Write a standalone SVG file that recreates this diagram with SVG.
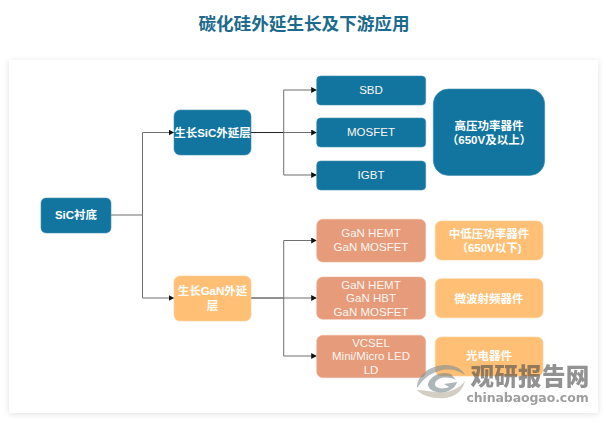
<svg xmlns="http://www.w3.org/2000/svg" width="608" height="423" viewBox="0 0 608 423">
<style>
text{font-family:"Liberation Sans","Noto Sans CJK SC",sans-serif;text-anchor:middle;fill:#fdf6f0}
.b{font-weight:700;font-size:11.500px;fill:#fff}
.t{font-size:11.500px}
.blue{fill:#12759f;stroke:#3f90b3;stroke-width:.6}
.gan{fill:#e69b7b;stroke:#f0b59c;stroke-width:.6}
.org{fill:#ffc075;stroke:#ffcd92;stroke-width:.6}
.line{fill:none;stroke:#6e6e6e;stroke-width:1}
.dark{fill:none;stroke:#222;stroke-width:1.1}
</style>
<defs>
<filter id="sh" x="-5%" y="-5%" width="110%" height="110%"><feDropShadow dx="0" dy="1" stdDeviation="3" flood-color="#000" flood-opacity=".12"/></filter>
<marker id="arr" markerUnits="userSpaceOnUse" markerWidth="7" markerHeight="7" refX="5.500" refY="3" orient="auto"><path d="M0 0L5.500 3L0 6Z" fill="#111"/></marker>
</defs>
<rect width="608" height="423" fill="#fff"/>
<rect x="9" y="60" width="589" height="353" fill="#fff" filter="url(#sh)"/>
<text x="304" y="30" style="font-family:'Liberation Serif','Noto Sans CJK SC',serif;font-size:17.600px;font-weight:700;fill:#1c6a8c">碳化硅外延生长及下游应用</text>
<g id="connectors">
<path class="line" d="M111 215H142.500"/>
<path class="line" d="M142.500 215V132.500H174" marker-end="url(#arr)"/>
<path class="line" d="M142.500 215V298H174" marker-end="url(#arr)"/>
<path class="dark" d="M251 132.500H283.700"/>
<path class="line" d="M283.700 132.500V90H316.700" marker-end="url(#arr)"/>
<path class="line" d="M283.700 132.500H316.700" marker-end="url(#arr)"/>
<path class="line" d="M283.700 132.500V175H316.700" marker-end="url(#arr)"/>
<path class="dark" d="M251 298H283.700"/>
<path class="line" d="M283.700 298V240.500H316.700" marker-end="url(#arr)"/>
<path class="line" d="M283.700 298H316.700" marker-end="url(#arr)"/>
<path class="line" d="M283.700 298V356H316.700" marker-end="url(#arr)"/>
</g>
<g id="sic-sub"><rect class="blue" x="41" y="198" width="70" height="35" rx="5"/><text class="b" x="76" y="219">SiC衬底</text></g>
<g id="sic-epi"><rect class="blue" x="174" y="110" width="77" height="45" rx="6"/><text class="b" x="212.500" y="137">生长SiC外延层</text></g>
<g id="gan-epi"><rect class="org" x="174" y="276" width="77" height="45" rx="6"/><text class="b" x="212.500" y="295">生长GaN外延</text><text class="b" x="212.500" y="310">层</text></g>
<g id="sbd"><rect class="blue" x="316.700" y="76" width="109" height="29" rx="4"/><text class="t" x="371" y="94">SBD</text></g>
<g id="mosfet"><rect class="blue" x="316.700" y="118" width="109" height="29" rx="4"/><text class="t" x="371" y="136">MOSFET</text></g>
<g id="igbt"><rect class="blue" x="316.700" y="161" width="109" height="29" rx="4"/><text class="t" x="371" y="179">IGBT</text></g>
<g id="hv"><rect class="blue" x="433.300" y="89" width="111.400" height="86.500" rx="15"/><text class="b" x="489" y="130">高压功率器件</text><text class="b" x="489" y="144">（650V及以上）</text></g>
<g id="gan1"><rect class="gan" x="316.700" y="219.300" width="109" height="42.700" rx="6"/><text class="t" x="371" y="237">GaN HEMT</text><text class="t" x="371" y="251">GaN MOSFET</text></g>
<g id="gan2"><rect class="gan" x="316.700" y="277" width="109" height="42.300" rx="6"/><text class="t" x="371" y="288.500">GaN HEMT</text><text class="t" x="371" y="302">GaN HBT</text><text class="t" x="371" y="316">GaN MOSFET</text></g>
<g id="gan3"><rect class="gan" x="316.700" y="335.300" width="109" height="42.400" rx="6"/><text class="t" x="371" y="346.500">VCSEL</text><text class="t" x="371" y="360">Mini/Micro LED</text><text class="t" x="371" y="374">LD</text></g>
<g id="mv"><rect class="org" x="435.300" y="221" width="107.700" height="39" rx="6"/><text class="b" x="489" y="238">中低压功率器件</text><text class="b" x="489" y="252">（650V以下)</text></g>
<g id="rf"><rect class="org" x="435.300" y="278.700" width="107.700" height="39" rx="6"/><text class="b" x="489" y="302.500">微波射频器件</text></g>
<g id="opto"><rect class="org" x="435.300" y="337" width="107.700" height="39" rx="6"/><text class="b" x="489" y="360">光电器件</text></g>
<g id="watermark" opacity=".6">
<path d="M417 388C417 374 432 364 448 365C457 366 463 370 465 375C458 370 448 368 439 371C428 374 422 381 417 388Z" fill="#7f8f94"/>
<path d="M417 390C422 396 434 399 445 398C456 397 463 390 465 381C460 388 450 393 440 392C431 392 423 390 417 390Z" fill="#b5ae9c"/>
<path d="M428 384C430 376 441 371 451 374L456 380C448 376 438 377 435 383C434 388 442 390 449 387L444 384L457 382C455 389 446 394 437 392C431 391 428 388 428 384Z" fill="#78868a"/>
<text x="530" y="385" style="font-size:23.500px;font-weight:900;fill:#4a4a4a;letter-spacing:.3px;font-family:'Noto Sans CJK SC',sans-serif">观研报告网</text>
<text x="527.500" y="402" style="font-size:12.500px;font-weight:700;fill:#5e5e5e;letter-spacing:-.1px;font-family:'DejaVu Sans',sans-serif">chinabaogao.com</text>
</g>
</svg>
